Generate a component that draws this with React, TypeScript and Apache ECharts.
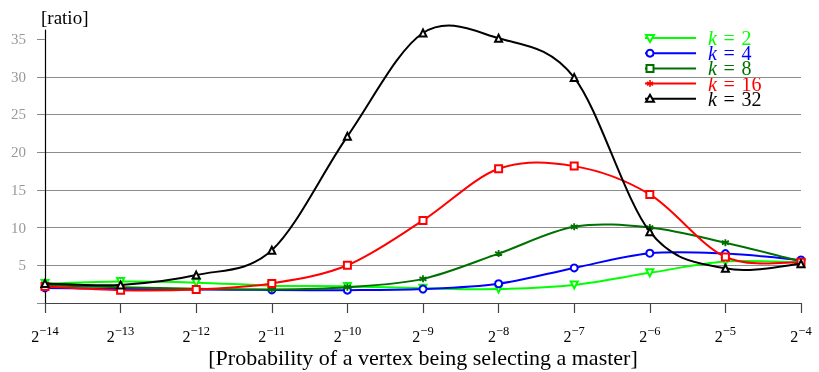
import React, { useEffect, useRef } from "react";
import * as echarts from "echarts";

const exponents = [-14, -13, -12, -11, -10, -9, -8, -7, -6, -5, -4];
const seriesNames = ["k = 2", "k = 4", "k = 8", "k = 16", "k = 32"];
const k2 = [2.57, 2.84, 2.7, 2.3, 2.2, 1.95, 1.85, 2.4, 4.0, 5.5, 5.35];
const k4 = [2.0, 1.86, 1.8, 1.73, 1.7, 1.85, 2.55, 4.65, 6.6, 6.55, 5.7];
const k8 = [2.35, 2.1, 1.9, 1.8, 2.1, 3.2, 6.55, 10.1, 10.0, 8.0, 5.5];
const k16 = [2.2, 1.7, 1.8, 2.6, 5.0, 10.95, 17.8, 18.15, 14.4, 6.1, 5.4];
const k32 = [2.6, 2.4, 3.7, 7.0, 22.1, 35.8, 35.1, 29.9, 9.45, 4.6, 5.2];
const yTicks = [0, 5, 10, 15, 20, 25, 30, 35];
const yLabels = [5, 10, 15, 20, 25, 30, 35];

const SERIF = "'Liberation Serif', 'DejaVu Serif', serif";
const GREEN = "#00ff00";
const BLUE = "#0000ff";
const DKGREEN = "#007000";
const RED = "#ff0000";
const BLACK = "#000000";
const ASTERISK = "path://M5,0L5,10M0.67,2.5L9.33,7.5M0.67,7.5L9.33,2.5";
const TENSION = 0.165;

function legendItem(i: number, label: string, color: string, marker: string) {
  const y = 38 + i * 15.2;
  const mx = 650;
  const children: any[] = [
    { type: "line", shape: { x1: 645, y1: y, x2: 696, y2: y }, style: { stroke: color, lineWidth: 2 } },
  ];
  const ms = { stroke: color, lineWidth: 2, fill: "#fff" };
  if (marker === "tri-down") {
    children.push({ type: "polygon", shape: { points: [[mx - 4, y - 3], [mx + 4, y - 3], [mx, y + 4]] }, style: ms });
  } else if (marker === "circle") {
    children.push({ type: "circle", shape: { cx: mx, cy: y, r: 3.5 }, style: ms });
  } else if (marker === "square") {
    children.push({ type: "rect", shape: { x: mx - 3.5, y: y - 3.5, width: 7, height: 7 }, style: ms });
  } else if (marker === "asterisk") {
    const r = 3.5;
    [[0, -r, 0, r], [-r * 0.87, -r * 0.5, r * 0.87, r * 0.5], [-r * 0.87, r * 0.5, r * 0.87, -r * 0.5]].forEach((s) =>
      children.push({ type: "line", shape: { x1: mx + s[0], y1: y + s[1], x2: mx + s[2], y2: y + s[3] }, style: { stroke: color, lineWidth: 1.6 } })
    );
  } else if (marker === "tri-up") {
    children.push({ type: "polygon", shape: { points: [[mx - 4, y + 3], [mx + 4, y + 3], [mx, y - 4]] }, style: ms });
  }
  const parts = label.split(" ");
  children.push({
    type: "text",
    x: 708,
    y: y,
    style: {
      text: `{i|${parts[0]}}{n|\u2004${parts[1]}\u2004${parts[2]}}`,
      fill: color,
      verticalAlign: "middle",
      rich: {
        i: { fontFamily: SERIF, fontSize: 20, lineHeight: 14, fontStyle: "italic", fill: color },
        n: { fontFamily: SERIF, fontSize: 20, lineHeight: 14, fill: color },
      },
    },
  });
  return { type: "group", children };
}

export default function App() {
  const ref = useRef<HTMLDivElement>(null);
  useEffect(() => {
    if (!ref.current) return;
    const chart = echarts.init(ref.current, undefined, { renderer: "svg" });
    const pairs = (vals: number[]) => exponents.map((e, i) => [e, vals[i]]);

    // smooth curve (Catmull-Rom style, like pgfplots "smooth") through the data via the axes
    const curve = (name: string, vals: number[], color: string, z: number) => ({
      name,
      type: "custom",
      data: pairs(vals),
      clip: false,
      z,
      silent: true,
      renderItem: (params: any, api: any) => {
        const i = params.dataIndex;
        const n = vals.length;
        if (i >= n - 1) return null;
        const P = (j: number) => api.coord([exponents[Math.max(0, Math.min(n - 1, j))], vals[Math.max(0, Math.min(n - 1, j))]]);
        const p0 = P(i - 1), p1 = P(i), p2 = P(i + 1), p3 = P(i + 2);
        return {
          type: "bezierCurve",
          shape: {
            x1: p1[0], y1: p1[1],
            cpx1: p1[0] + TENSION * (p2[0] - p0[0]), cpy1: p1[1] + TENSION * (p2[1] - p0[1]),
            cpx2: p2[0] - TENSION * (p3[0] - p1[0]), cpy2: p2[1] - TENSION * (p3[1] - p1[1]),
            x2: p2[0], y2: p2[1],
          },
          style: { stroke: color, lineWidth: 2, fill: "none" },
        };
      },
    });
    const marks = (name: string, vals: number[], color: string, symbol: string, z: number, extra: any = {}) => ({
      name,
      type: "line",
      data: pairs(vals),
      clip: false,
      z,
      symbol,
      symbolSize: 7,
      showAllSymbol: true,
      lineStyle: { opacity: 0, width: 0 },
      itemStyle: { color, borderColor: color, borderWidth: 1.8 },
      emphasis: { disabled: true },
      ...extra,
    });
    chart.setOption({
      animation: false,
      grid: { left: 45, right: 18, top: 30, bottom: 69, containLabel: false, outerBoundsMode: "none" },
      xAxis: {
        type: "value",
        min: -14,
        max: -4,
        interval: 1,
        name: "[Probability of a vertex being selecting a master]",
        nameLocation: "middle",
        nameGap: 41,
        nameMoveOverlap: false,
        nameTextStyle: { fontFamily: SERIF, fontSize: 22, color: "#000", lineHeight: 26 },
        axisLine: { lineStyle: { color: "#444", width: 1.2 } },
        axisTick: { show: true, length: 10, lineStyle: { color: "#444", width: 1.2 } },
        splitLine: { show: false },
        axisLabel: {
          margin: 21,
          formatter: (v: number) => `{b|2}{s|\u2212${Math.abs(v)}}`,
          rich: {
            b: { fontFamily: SERIF, fontSize: 16, lineHeight: 20, verticalAlign: "bottom", color: "#000" },
            s: { fontFamily: SERIF, fontSize: 12.5, lineHeight: 12, verticalAlign: "top", color: "#000" },
          },
        },
      },
      yAxis: {
        type: "value",
        min: 0,
        max: 36.2,
        interval: 5,
        name: "[ratio]",
        nameLocation: "end",
        nameGap: 3,
        nameMoveOverlap: false,
        nameTextStyle: { fontFamily: SERIF, fontSize: 19, color: "#000", align: "left", verticalAlign: "bottom", padding: [0, 0, 0, -4] },
        axisLine: { show: true, lineStyle: { color: "#000", width: 1.2 } },
        axisTick: { show: true, length: 8, customValues: yTicks, lineStyle: { color: "#888" } },
        axisLabel: {
          margin: 19,
          customValues: yLabels,
          color: "#999",
          fontFamily: SERIF,
          fontSize: 15,
          formatter: (v: number) => (yLabels.indexOf(v) >= 0 ? String(v) : ""),
        },
        splitLine: { show: true, showMaxLine: false, lineStyle: { color: "#8c8c8c", width: 1 } },
      },
      graphic: [
        legendItem(0, seriesNames[0], GREEN, "tri-down"),
        legendItem(1, seriesNames[1], BLUE, "circle"),
        legendItem(2, seriesNames[2], DKGREEN, "square"),
        legendItem(3, seriesNames[3], RED, "asterisk"),
        legendItem(4, seriesNames[4], BLACK, "tri-up"),
      ],
      series: [
        curve(seriesNames[0], k2, GREEN, 2),
        marks(seriesNames[0], k2, GREEN, "emptyTriangle", 3, { symbolRotate: 180 }),
        curve(seriesNames[1], k4, BLUE, 4),
        marks(seriesNames[1], k4, BLUE, "emptyCircle", 5),
        curve(seriesNames[2], k8, DKGREEN, 6),
        marks(seriesNames[2], k8, DKGREEN, ASTERISK, 7),
        curve(seriesNames[3], k16, RED, 8),
        marks(seriesNames[3], k16, RED, "emptyRect", 9),
        curve(seriesNames[4], k32, BLACK, 10),
        marks(seriesNames[4], k32, BLACK, "emptyTriangle", 11),
      ],
    });
    return () => chart.dispose();
  }, []);
  return <div ref={ref} style={{ position: "fixed", left: 0, top: 0, width: 819, height: 372 }} />;
}
